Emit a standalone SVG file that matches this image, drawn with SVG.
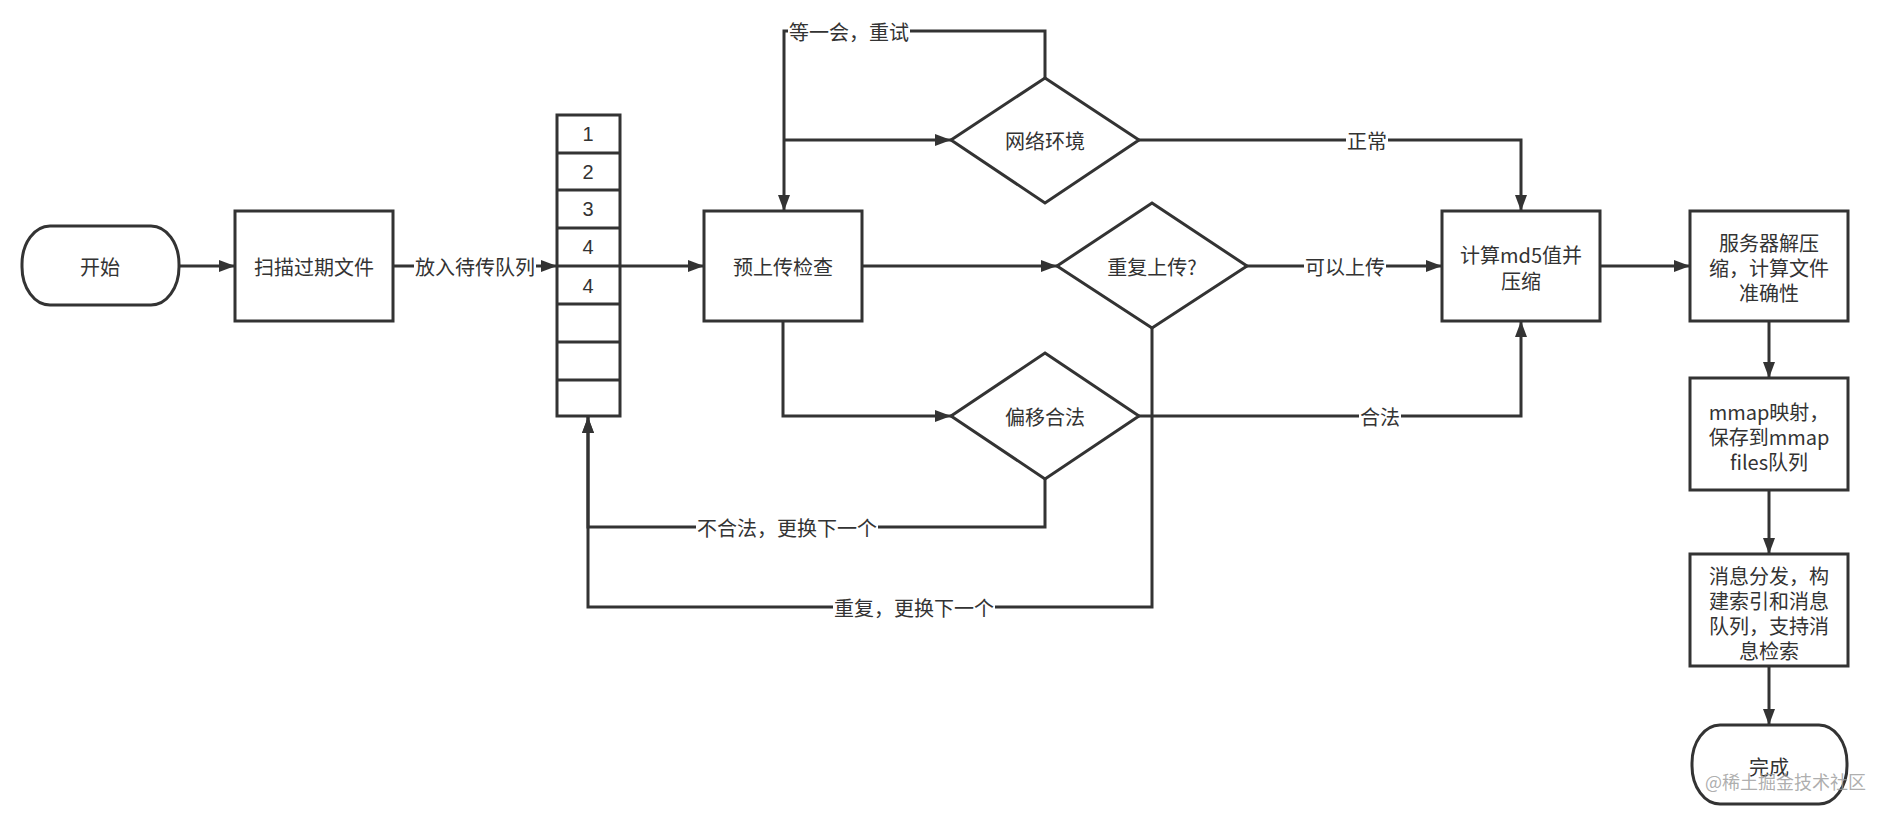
<svg xmlns="http://www.w3.org/2000/svg" width="1888" height="814" viewBox="0 0 1888 814">
<defs>
<marker id="arr" viewBox="0 0 16 12" refX="16" refY="6" markerWidth="16" markerHeight="12" orient="auto" markerUnits="userSpaceOnUse">
<path d="M0,0 L16,6 L0,12 Z" fill="#333"/>
</marker>
<style>
.n{fill:#fff;stroke:#333;stroke-width:3}
.t{font-family:"Noto Sans CJK SC","Noto Sans",sans-serif;font-size:20px;fill:#333;text-anchor:middle;dominant-baseline:central}
.d{font-family:"Liberation Sans","Noto Sans",sans-serif;font-size:20px;fill:#333;text-anchor:middle;dominant-baseline:central}
.e{fill:none;stroke:#333;stroke-width:3}
.lb{fill:#fff}
</style>
</defs>
<rect width="1888" height="814" fill="#fff"/>
<g id="connectors">
<path class="e" d="M179,266 H235" marker-end="url(#arr)"/>
<path class="e" d="M393,266 H557" marker-end="url(#arr)"/>
<path class="e" d="M557,266 H704" marker-end="url(#arr)"/>
<path class="e" d="M862,266 H1057" marker-end="url(#arr)"/>
<path class="e" d="M1247,266 H1442" marker-end="url(#arr)"/>
<path class="e" d="M1600,266 H1690" marker-end="url(#arr)"/>
<path class="e" d="M1769,321 V378" marker-end="url(#arr)"/>
<path class="e" d="M1769,490 V554" marker-end="url(#arr)"/>
<path class="e" d="M1769,666 V725" marker-end="url(#arr)"/>
<path class="e" d="M783,321 V416 H951" marker-end="url(#arr)"/>
<path class="e" d="M1152,328 V607 H588 V417" marker-end="url(#arr)"/>
<path class="e" d="M1045,479 V527 H588 V417" marker-end="url(#arr)"/>
<path class="e" d="M1045,78 V31 H784 V211" marker-end="url(#arr)"/>
<path class="e" d="M784,140 H951" marker-end="url(#arr)"/>
<path class="e" d="M1139,140 H1521 V211" marker-end="url(#arr)"/>
<path class="e" d="M1139,416 H1521 V321" marker-end="url(#arr)"/>
<rect class="lb" x="414" y="252" width="122" height="28"/>
<text class="t" x="475" y="266">放入待传队列</text>
<rect class="lb" x="788" y="17" width="122" height="28"/>
<text class="t" x="849" y="31">等一会，重试</text>
<rect class="lb" x="1346" y="126" width="42" height="28"/>
<text class="t" x="1367" y="140">正常</text>
<rect class="lb" x="1304" y="252" width="82" height="28"/>
<text class="t" x="1345" y="266">可以上传</text>
<rect class="lb" x="1359" y="402" width="42" height="28"/>
<text class="t" x="1380" y="416">合法</text>
<rect class="lb" x="696" y="513" width="182" height="28"/>
<text class="t" x="787" y="527">不合法，更换下一个</text>
<rect class="lb" x="833" y="593" width="162" height="28"/>
<text class="t" x="914" y="607">重复，更换下一个</text>
</g>
<g id="start">
<rect class="n" x="22" y="226" width="157" height="79" rx="28" ry="38"/>
<text class="t" x="100" y="266">开始</text>
</g>
<g id="scan">
<rect class="n" x="235" y="211" width="158" height="110"/>
<text class="t" x="314" y="266">扫描过期文件</text>
</g>
<g id="queue">
<rect class="n" x="557" y="115" width="63" height="301" fill="none"/>
<path class="e" d="M557,153 H620 M557,190 H620 M557,228 H620 M557,266 H620 M557,304 H620 M557,342 H620 M557,380 H620"/>
<text class="d" x="588" y="134">1</text>
<text class="d" x="588" y="172">2</text>
<text class="d" x="588" y="209">3</text>
<text class="d" x="588" y="247">4</text>
<text class="d" x="588" y="286">4</text>
</g>
<g id="precheck">
<rect class="n" x="704" y="211" width="158" height="110"/>
<text class="t" x="783" y="266">预上传检查</text>
</g>
<g id="network">
<polygon class="n" points="1045,78 1139,140 1045,203 951,140"/>
<text class="t" x="1045" y="140">网络环境</text>
</g>
<g id="dup">
<polygon class="n" points="1152,203 1247,266 1152,328 1057,266"/>
<text class="t" x="1152" y="266">重复上传?</text>
</g>
<g id="offset">
<polygon class="n" points="1045,353 1139,416 1045,479 951,416"/>
<text class="t" x="1045" y="416">偏移合法</text>
</g>
<g id="md5">
<rect class="n" x="1442" y="211" width="158" height="110"/>
<text class="t" x="1521" y="254">计算md5值并</text>
<text class="t" x="1521" y="280">压缩</text>
</g>
<g id="server">
<rect class="n" x="1690" y="211" width="158" height="110"/>
<text class="t" x="1769" y="242">服务器解压</text>
<text class="t" x="1769" y="267">缩，计算文件</text>
<text class="t" x="1769" y="292">准确性</text>
</g>
<g id="mmap">
<rect class="n" x="1690" y="378" width="158" height="112"/>
<text class="t" x="1769" y="411">mmap映射，</text>
<text class="t" x="1769" y="436">保存到mmap</text>
<text class="t" x="1769" y="461">files队列</text>
</g>
<g id="dispatch">
<rect class="n" x="1690" y="554" width="158" height="112"/>
<text class="t" x="1769" y="575">消息分发，构</text>
<text class="t" x="1769" y="600">建索引和消息</text>
<text class="t" x="1769" y="625">队列，支持消</text>
<text class="t" x="1769" y="650">息检索</text>
</g>
<g id="end">
<rect class="n" x="1692" y="725" width="155" height="79" rx="28" ry="38"/>
<text class="t" x="1769" y="766">完成</text>
</g>
<text x="1705" y="781" font-family="Noto Sans CJK SC, sans-serif" font-size="18" fill="#999" fill-opacity="0.8" dominant-baseline="central">@稀土掘金技术社区</text>
</svg>
